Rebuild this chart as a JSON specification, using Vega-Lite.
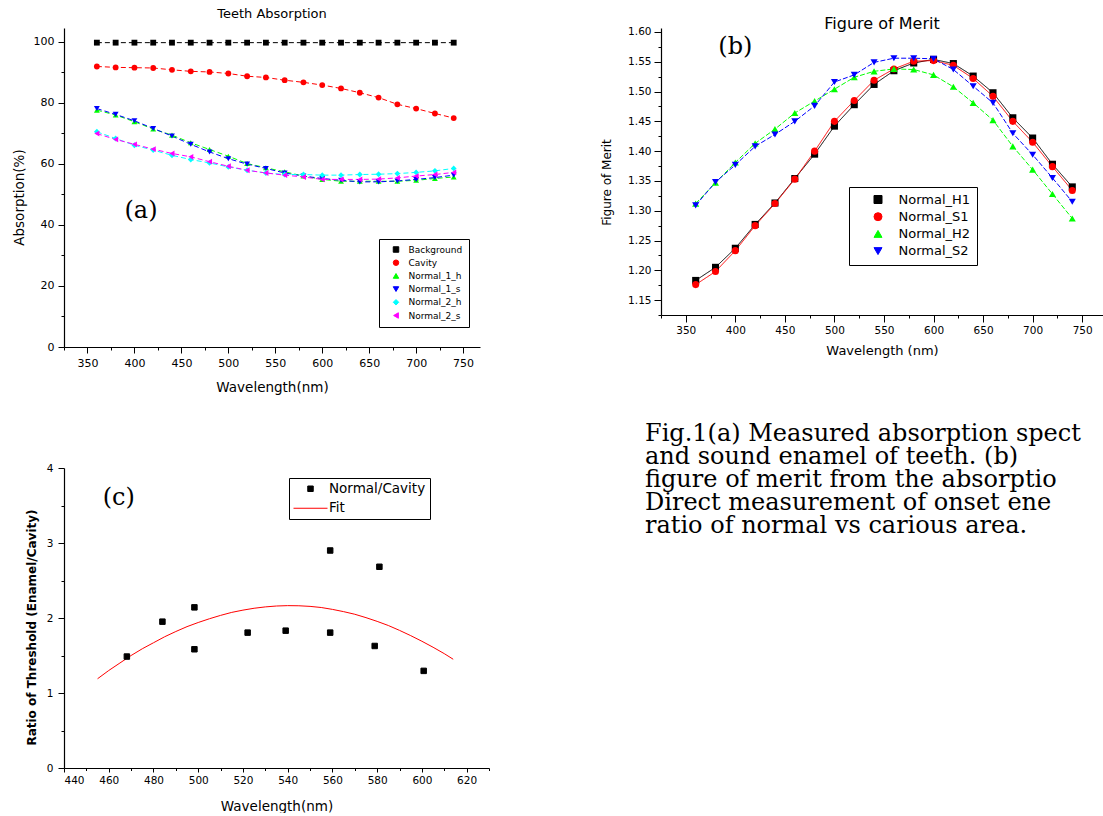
{
 "$schema": "https://vega.github.io/schema/vega-lite/v6.json",
 "background": "white",
 "padding": {"left": 12, "top": 8, "right": 0, "bottom": 0},
 "columns": 2,
 "spacing": {"row": 121, "column": 172},
 "align": "each",
 "bounds": "flush",
 "resolve": {"scale": {"color": "independent", "stroke": "independent", "shape": "independent", "strokeDash": "independent", "size": "independent"}, "legend": {"color": "independent", "stroke": "independent", "shape": "independent", "strokeDash": "independent", "size": "independent"}},
 "config": {
  "view": {"stroke": null},
  "font": "DejaVu Sans",
  "axis": {"grid": false, "domainColor": "#000000", "tickColor": "#000000", "labelColor": "#000000", "titleColor": "#000000", "labelFont": "DejaVu Sans", "titleFont": "DejaVu Sans", "titleFontWeight": "normal", "domainWidth": 1.2, "tickWidth": 1},
  "title": {"font": "DejaVu Sans", "fontWeight": "normal", "color": "#000000"},
  "legend": {"labelColor": "#000000", "labelFont": "DejaVu Sans"}
 },
 "datasets": {
  "absorption": [
   {"wavelength":360,"series":"Background","absorption":99.7},{"wavelength":380,"series":"Background","absorption":99.7},{"wavelength":400,"series":"Background","absorption":99.7},{"wavelength":420,"series":"Background","absorption":99.7},{"wavelength":440,"series":"Background","absorption":99.7},{"wavelength":460,"series":"Background","absorption":99.7},{"wavelength":480,"series":"Background","absorption":99.7},{"wavelength":500,"series":"Background","absorption":99.7},{"wavelength":520,"series":"Background","absorption":99.7},{"wavelength":540,"series":"Background","absorption":99.7},{"wavelength":560,"series":"Background","absorption":99.7},{"wavelength":580,"series":"Background","absorption":99.7},{"wavelength":600,"series":"Background","absorption":99.7},{"wavelength":620,"series":"Background","absorption":99.7},{"wavelength":640,"series":"Background","absorption":99.7},{"wavelength":660,"series":"Background","absorption":99.7},{"wavelength":680,"series":"Background","absorption":99.7},{"wavelength":700,"series":"Background","absorption":99.7},{"wavelength":720,"series":"Background","absorption":99.7},{"wavelength":740,"series":"Background","absorption":99.7},
   {"wavelength":360,"series":"Cavity","absorption":91.9},{"wavelength":380,"series":"Cavity","absorption":91.6},{"wavelength":400,"series":"Cavity","absorption":91.5},{"wavelength":420,"series":"Cavity","absorption":91.4},{"wavelength":440,"series":"Cavity","absorption":90.8},{"wavelength":460,"series":"Cavity","absorption":90.3},{"wavelength":480,"series":"Cavity","absorption":90.1},{"wavelength":500,"series":"Cavity","absorption":89.6},{"wavelength":520,"series":"Cavity","absorption":88.7},{"wavelength":540,"series":"Cavity","absorption":88.3},{"wavelength":560,"series":"Cavity","absorption":87.4},{"wavelength":580,"series":"Cavity","absorption":86.7},{"wavelength":600,"series":"Cavity","absorption":85.8},{"wavelength":620,"series":"Cavity","absorption":84.7},{"wavelength":640,"series":"Cavity","absorption":83.3},{"wavelength":660,"series":"Cavity","absorption":81.7},{"wavelength":680,"series":"Cavity","absorption":79.5},{"wavelength":700,"series":"Cavity","absorption":78.1},{"wavelength":720,"series":"Cavity","absorption":76.5},{"wavelength":740,"series":"Cavity","absorption":75.0},
   {"wavelength":360,"series":"Normal_1_h","absorption":77.6},{"wavelength":380,"series":"Normal_1_h","absorption":76.0},{"wavelength":400,"series":"Normal_1_h","absorption":73.8},{"wavelength":420,"series":"Normal_1_h","absorption":71.4},{"wavelength":440,"series":"Normal_1_h","absorption":69.4},{"wavelength":460,"series":"Normal_1_h","absorption":66.9},{"wavelength":480,"series":"Normal_1_h","absorption":64.7},{"wavelength":500,"series":"Normal_1_h","absorption":62.5},{"wavelength":520,"series":"Normal_1_h","absorption":60.1},{"wavelength":540,"series":"Normal_1_h","absorption":58.7},{"wavelength":560,"series":"Normal_1_h","absorption":57.4},{"wavelength":580,"series":"Normal_1_h","absorption":56.0},{"wavelength":600,"series":"Normal_1_h","absorption":54.9},{"wavelength":620,"series":"Normal_1_h","absorption":54.3},{"wavelength":640,"series":"Normal_1_h","absorption":54.3},{"wavelength":660,"series":"Normal_1_h","absorption":54.3},{"wavelength":680,"series":"Normal_1_h","absorption":54.3},{"wavelength":700,"series":"Normal_1_h","absorption":54.6},{"wavelength":720,"series":"Normal_1_h","absorption":55.2},{"wavelength":740,"series":"Normal_1_h","absorption":55.7},
   {"wavelength":360,"series":"Normal_1_s","absorption":78.1},{"wavelength":380,"series":"Normal_1_s","absorption":76.2},{"wavelength":400,"series":"Normal_1_s","absorption":74.1},{"wavelength":420,"series":"Normal_1_s","absorption":71.6},{"wavelength":440,"series":"Normal_1_s","absorption":69.1},{"wavelength":460,"series":"Normal_1_s","absorption":66.4},{"wavelength":480,"series":"Normal_1_s","absorption":63.9},{"wavelength":500,"series":"Normal_1_s","absorption":61.7},{"wavelength":520,"series":"Normal_1_s","absorption":59.9},{"wavelength":540,"series":"Normal_1_s","absorption":58.5},{"wavelength":560,"series":"Normal_1_s","absorption":57.0},{"wavelength":580,"series":"Normal_1_s","absorption":56.0},{"wavelength":600,"series":"Normal_1_s","absorption":55.2},{"wavelength":620,"series":"Normal_1_s","absorption":54.6},{"wavelength":640,"series":"Normal_1_s","absorption":54.1},{"wavelength":660,"series":"Normal_1_s","absorption":54.1},{"wavelength":680,"series":"Normal_1_s","absorption":54.4},{"wavelength":700,"series":"Normal_1_s","absorption":54.9},{"wavelength":720,"series":"Normal_1_s","absorption":55.5},{"wavelength":740,"series":"Normal_1_s","absorption":56.3},
   {"wavelength":360,"series":"Normal_2_h","absorption":70.5},{"wavelength":380,"series":"Normal_2_h","absorption":68.3},{"wavelength":400,"series":"Normal_2_h","absorption":66.1},{"wavelength":420,"series":"Normal_2_h","absorption":64.5},{"wavelength":440,"series":"Normal_2_h","absorption":62.8},{"wavelength":460,"series":"Normal_2_h","absorption":61.4},{"wavelength":480,"series":"Normal_2_h","absorption":60.3},{"wavelength":500,"series":"Normal_2_h","absorption":59.0},{"wavelength":520,"series":"Normal_2_h","absorption":57.9},{"wavelength":540,"series":"Normal_2_h","absorption":57.0},{"wavelength":560,"series":"Normal_2_h","absorption":56.5},{"wavelength":580,"series":"Normal_2_h","absorption":56.5},{"wavelength":600,"series":"Normal_2_h","absorption":56.3},{"wavelength":620,"series":"Normal_2_h","absorption":56.3},{"wavelength":640,"series":"Normal_2_h","absorption":56.5},{"wavelength":660,"series":"Normal_2_h","absorption":56.6},{"wavelength":680,"series":"Normal_2_h","absorption":56.8},{"wavelength":700,"series":"Normal_2_h","absorption":57.2},{"wavelength":720,"series":"Normal_2_h","absorption":57.7},{"wavelength":740,"series":"Normal_2_h","absorption":58.5},
   {"wavelength":360,"series":"Normal_2_s","absorption":69.9},{"wavelength":380,"series":"Normal_2_s","absorption":68.0},{"wavelength":400,"series":"Normal_2_s","absorption":66.4},{"wavelength":420,"series":"Normal_2_s","absorption":64.8},{"wavelength":440,"series":"Normal_2_s","absorption":63.4},{"wavelength":460,"series":"Normal_2_s","absorption":62.3},{"wavelength":480,"series":"Normal_2_s","absorption":60.7},{"wavelength":500,"series":"Normal_2_s","absorption":59.2},{"wavelength":520,"series":"Normal_2_s","absorption":57.9},{"wavelength":540,"series":"Normal_2_s","absorption":57.0},{"wavelength":560,"series":"Normal_2_s","absorption":56.3},{"wavelength":580,"series":"Normal_2_s","absorption":55.7},{"wavelength":600,"series":"Normal_2_s","absorption":54.9},{"wavelength":620,"series":"Normal_2_s","absorption":54.9},{"wavelength":640,"series":"Normal_2_s","absorption":54.9},{"wavelength":660,"series":"Normal_2_s","absorption":55.0},{"wavelength":680,"series":"Normal_2_s","absorption":55.4},{"wavelength":700,"series":"Normal_2_s","absorption":56.0},{"wavelength":720,"series":"Normal_2_s","absorption":56.5},{"wavelength":740,"series":"Normal_2_s","absorption":57.2}
  ],
  "fom": [
   {"wavelength":360,"series":"Normal_H1","fom":1.183},{"wavelength":380,"series":"Normal_H1","fom":1.205},{"wavelength":400,"series":"Normal_H1","fom":1.237},{"wavelength":420,"series":"Normal_H1","fom":1.277},{"wavelength":440,"series":"Normal_H1","fom":1.313},{"wavelength":460,"series":"Normal_H1","fom":1.354},{"wavelength":480,"series":"Normal_H1","fom":1.395},{"wavelength":500,"series":"Normal_H1","fom":1.442},{"wavelength":520,"series":"Normal_H1","fom":1.478},{"wavelength":540,"series":"Normal_H1","fom":1.512},{"wavelength":560,"series":"Normal_H1","fom":1.535},{"wavelength":580,"series":"Normal_H1","fom":1.548},{"wavelength":600,"series":"Normal_H1","fom":1.554},{"wavelength":620,"series":"Normal_H1","fom":1.547},{"wavelength":640,"series":"Normal_H1","fom":1.526},{"wavelength":660,"series":"Normal_H1","fom":1.498},{"wavelength":680,"series":"Normal_H1","fom":1.456},{"wavelength":700,"series":"Normal_H1","fom":1.422},{"wavelength":720,"series":"Normal_H1","fom":1.378},{"wavelength":740,"series":"Normal_H1","fom":1.340},
   {"wavelength":360,"series":"Normal_S1","fom":1.176},{"wavelength":380,"series":"Normal_S1","fom":1.198},{"wavelength":400,"series":"Normal_S1","fom":1.233},{"wavelength":420,"series":"Normal_S1","fom":1.275},{"wavelength":440,"series":"Normal_S1","fom":1.312},{"wavelength":460,"series":"Normal_S1","fom":1.353},{"wavelength":480,"series":"Normal_S1","fom":1.400},{"wavelength":500,"series":"Normal_S1","fom":1.450},{"wavelength":520,"series":"Normal_S1","fom":1.485},{"wavelength":540,"series":"Normal_S1","fom":1.519},{"wavelength":560,"series":"Normal_S1","fom":1.538},{"wavelength":580,"series":"Normal_S1","fom":1.551},{"wavelength":600,"series":"Normal_S1","fom":1.552},{"wavelength":620,"series":"Normal_S1","fom":1.544},{"wavelength":640,"series":"Normal_S1","fom":1.522},{"wavelength":660,"series":"Normal_S1","fom":1.492},{"wavelength":680,"series":"Normal_S1","fom":1.450},{"wavelength":700,"series":"Normal_S1","fom":1.415},{"wavelength":720,"series":"Normal_S1","fom":1.374},{"wavelength":740,"series":"Normal_S1","fom":1.334},
   {"wavelength":360,"series":"Normal_H2","fom":1.312},{"wavelength":380,"series":"Normal_H2","fom":1.347},{"wavelength":400,"series":"Normal_H2","fom":1.381},{"wavelength":420,"series":"Normal_H2","fom":1.413},{"wavelength":440,"series":"Normal_H2","fom":1.437},{"wavelength":460,"series":"Normal_H2","fom":1.464},{"wavelength":480,"series":"Normal_H2","fom":1.484},{"wavelength":500,"series":"Normal_H2","fom":1.504},{"wavelength":520,"series":"Normal_H2","fom":1.524},{"wavelength":540,"series":"Normal_H2","fom":1.534},{"wavelength":560,"series":"Normal_H2","fom":1.538},{"wavelength":580,"series":"Normal_H2","fom":1.537},{"wavelength":600,"series":"Normal_H2","fom":1.528},{"wavelength":620,"series":"Normal_H2","fom":1.508},{"wavelength":640,"series":"Normal_H2","fom":1.481},{"wavelength":660,"series":"Normal_H2","fom":1.452},{"wavelength":680,"series":"Normal_H2","fom":1.408},{"wavelength":700,"series":"Normal_H2","fom":1.369},{"wavelength":720,"series":"Normal_H2","fom":1.328},{"wavelength":740,"series":"Normal_H2","fom":1.287},
   {"wavelength":360,"series":"Normal_S2","fom":1.309},{"wavelength":380,"series":"Normal_S2","fom":1.348},{"wavelength":400,"series":"Normal_S2","fom":1.377},{"wavelength":420,"series":"Normal_S2","fom":1.408},{"wavelength":440,"series":"Normal_S2","fom":1.428},{"wavelength":460,"series":"Normal_S2","fom":1.450},{"wavelength":480,"series":"Normal_S2","fom":1.476},{"wavelength":500,"series":"Normal_S2","fom":1.516},{"wavelength":520,"series":"Normal_S2","fom":1.528},{"wavelength":540,"series":"Normal_S2","fom":1.549},{"wavelength":560,"series":"Normal_S2","fom":1.556},{"wavelength":580,"series":"Normal_S2","fom":1.556},{"wavelength":600,"series":"Normal_S2","fom":1.555},{"wavelength":620,"series":"Normal_S2","fom":1.537},{"wavelength":640,"series":"Normal_S2","fom":1.509},{"wavelength":660,"series":"Normal_S2","fom":1.481},{"wavelength":680,"series":"Normal_S2","fom":1.430},{"wavelength":700,"series":"Normal_S2","fom":1.394},{"wavelength":720,"series":"Normal_S2","fom":1.355},{"wavelength":740,"series":"Normal_S2","fom":1.315}
  ],
  "ratio": [
   {"wavelength":468.1,"series":"Normal/Cavity","ratio":1.486},{"wavelength":484.0,"series":"Normal/Cavity","ratio":1.951},{"wavelength":498.3,"series":"Normal/Cavity","ratio":2.142},{"wavelength":498.3,"series":"Normal/Cavity","ratio":1.583},{"wavelength":522.1,"series":"Normal/Cavity","ratio":1.805},{"wavelength":539.1,"series":"Normal/Cavity","ratio":1.831},{"wavelength":559.0,"series":"Normal/Cavity","ratio":2.900},{"wavelength":559.0,"series":"Normal/Cavity","ratio":1.805},{"wavelength":581.0,"series":"Normal/Cavity","ratio":2.683},{"wavelength":578.9,"series":"Normal/Cavity","ratio":1.627},{"wavelength":600.8,"series":"Normal/Cavity","ratio":1.295},
   {"wavelength":455,"series":"Fit","ratio":1.19},{"wavelength":460,"series":"Fit","ratio":1.30},{"wavelength":465,"series":"Fit","ratio":1.40},{"wavelength":470,"series":"Fit","ratio":1.50},{"wavelength":475,"series":"Fit","ratio":1.59},{"wavelength":480,"series":"Fit","ratio":1.67},{"wavelength":485,"series":"Fit","ratio":1.75},{"wavelength":490,"series":"Fit","ratio":1.82},{"wavelength":495,"series":"Fit","ratio":1.885},{"wavelength":500,"series":"Fit","ratio":1.94},{"wavelength":505,"series":"Fit","ratio":1.99},{"wavelength":510,"series":"Fit","ratio":2.035},{"wavelength":515,"series":"Fit","ratio":2.075},{"wavelength":520,"series":"Fit","ratio":2.105},{"wavelength":525,"series":"Fit","ratio":2.13},{"wavelength":530,"series":"Fit","ratio":2.148},{"wavelength":535,"series":"Fit","ratio":2.16},{"wavelength":540,"series":"Fit","ratio":2.165},{"wavelength":545,"series":"Fit","ratio":2.163},{"wavelength":550,"series":"Fit","ratio":2.155},{"wavelength":555,"series":"Fit","ratio":2.14},{"wavelength":560,"series":"Fit","ratio":2.115},{"wavelength":565,"series":"Fit","ratio":2.085},{"wavelength":570,"series":"Fit","ratio":2.05},{"wavelength":575,"series":"Fit","ratio":2.005},{"wavelength":580,"series":"Fit","ratio":1.955},{"wavelength":585,"series":"Fit","ratio":1.90},{"wavelength":590,"series":"Fit","ratio":1.835},{"wavelength":595,"series":"Fit","ratio":1.765},{"wavelength":600,"series":"Fit","ratio":1.69},{"wavelength":605,"series":"Fit","ratio":1.61},{"wavelength":610,"series":"Fit","ratio":1.525},{"wavelength":614,"series":"Fit","ratio":1.45}
  ],
  "caption": [
   {"line":1,"text":"Fig.1(a) Measured absorption spect"},
   {"line":2,"text":"and sound enamel of teeth. (b)"},
   {"line":3,"text":"figure of merit from the absorptio"},
   {"line":4,"text":"Direct measurement of onset ene"},
   {"line":5,"text":"ratio of normal vs carious area."}
  ]
 },
 "concat": [
  {
   "width": 416, "height": 319,
   "title": {"text": "Teeth Absorption", "fontSize": 13, "offset": 7},
   "layer": [
    {
     "data": {"name": "absorption"},
     "mark": {"type": "line", "strokeWidth": 1, "strokeDash": [5, 3]},
     "encoding": {
      "x": {"field": "wavelength", "type": "quantitative", "scale": {"domain": [325, 768], "nice": false, "zero": false},
            "axis": {"values": [350,400,450,500,550,600,650,700,750], "format": "d", "title": "Wavelength(nm)", "labelFontSize": 11, "tickSize": 6, "labelPadding": 4, "titleFontSize": 13.5, "titlePadding": 12}},
      "y": {"field": "absorption", "type": "quantitative", "scale": {"domain": [0, 104.5], "nice": false, "zero": false},
            "axis": {"values": [0,20,40,60,80,100], "format": "d", "title": "Absorption(%)", "labelFontSize": 11, "tickSize": 6, "labelPadding": 4, "titleFontSize": 13.5, "titlePadding": 7, "titleY": 169}},
      "stroke": {"field": "series", "type": "nominal", "scale": {"domain": ["Background","Cavity","Normal_1_h","Normal_1_s","Normal_2_h","Normal_2_s"], "range": ["#000000","#ff0000","#00ff00","#0000ff","#00ffff","#ff00ff"]},
        "legend": {"orient": "none", "legendX": 315, "legendY": 211, "title": null, "labelFontSize": 9, "symbolSize": 30, "symbolOffset": 6.5, "labelOffset": 8, "clipHeight": 9, "rowPadding": 3.2, "padding": 6, "fillColor": "white", "strokeColor": "black", "symbolStrokeWidth": 1, "symbolOpacity": 1}}
     }
    },
    {
     "data": {"name": "absorption"},
     "mark": {"type": "point", "filled": true, "size": 34, "opacity": 1},
     "encoding": {
      "x": {"field": "wavelength", "type": "quantitative", "scale": {"domain": [325, 768], "nice": false, "zero": false},
            "axis": {"values": [325,375,425,475,525,575,625,675,725], "labels": false, "domain": false, "title": null, "tickSize": 3, "orient": "bottom"}},
      "y": {"field": "absorption", "type": "quantitative", "scale": {"domain": [0, 104.5], "nice": false, "zero": false},
            "axis": {"values": [10,30,50,70,90], "labels": false, "domain": false, "title": null, "tickSize": 3, "orient": "left"}},
      "color": {"field": "series", "type": "nominal", "scale": {"domain": ["Background","Cavity","Normal_1_h","Normal_1_s","Normal_2_h","Normal_2_s"], "range": ["#000000","#ff0000","#00ff00","#0000ff","#00ffff","#ff00ff"]},
        "legend": {"orient": "none", "legendX": 315, "legendY": 211, "title": null, "labelFontSize": 9, "symbolSize": 30, "symbolOffset": 6.5, "labelOffset": 8, "clipHeight": 9, "rowPadding": 3.2, "padding": 6, "fillColor": "white", "strokeColor": "black", "symbolStrokeWidth": 1, "symbolOpacity": 1}},
      "shape": {"field": "series", "type": "nominal", "scale": {"domain": ["Background","Cavity","Normal_1_h","Normal_1_s","Normal_2_h","Normal_2_s"], "range": ["square","circle","triangle-up","triangle-down","diamond","triangle-left"]},
        "legend": {"orient": "none", "legendX": 315, "legendY": 211, "title": null, "labelFontSize": 9, "symbolSize": 30, "symbolOffset": 6.5, "labelOffset": 8, "clipHeight": 9, "rowPadding": 3.2, "padding": 6, "fillColor": "white", "strokeColor": "black", "symbolStrokeWidth": 1, "symbolOpacity": 1}}
     }
    },
    {
     "data": {"values": [{"wavelength": 407, "absorption": 44.6, "label": "(a)"}]},
     "mark": {"type": "text", "font": "DejaVu Serif", "fontSize": 24, "align": "center", "baseline": "middle", "color": "#000000"},
     "encoding": {
      "x": {"field": "wavelength", "type": "quantitative", "scale": {"domain": [325, 768], "nice": false, "zero": false}, "axis": null},
      "y": {"field": "absorption", "type": "quantitative", "scale": {"domain": [0, 104.5], "nice": false, "zero": false}, "axis": null},
      "text": {"field": "label", "type": "nominal"}
     }
    }
   ],
   "resolve": {"axis": {"x": "independent", "y": "independent"}}
  },
  {
   "width": 442, "height": 287,
   "title": {"text": "Figure of Merit", "fontSize": 16, "offset": -5},
   "layer": [
    {
     "data": {"name": "fom"},
     "mark": {"type": "line", "strokeWidth": 1},
     "encoding": {
      "x": {"field": "wavelength", "type": "quantitative", "scale": {"domain": [325, 771], "nice": false, "zero": false},
            "axis": {"values": [350,400,450,500,550,600,650,700,750], "format": "d", "title": "Wavelength (nm)", "labelFontSize": 10.5, "tickSize": 7, "labelPadding": 3, "titleFontSize": 13, "titlePadding": 9}},
      "y": {"field": "fom", "type": "quantitative", "scale": {"domain": [1.125, 1.6067], "nice": false, "zero": false},
            "axis": {"values": [1.15,1.2,1.25,1.3,1.35,1.4,1.45,1.5,1.55,1.6], "format": ".2f", "title": "Figure of Merit", "labelFontSize": 10.5, "tickSize": 7, "labelPadding": 3, "titleFontSize": 12, "titlePadding": 14, "titleY": 154}},
      "stroke": {"field": "series", "type": "nominal", "scale": {"domain": ["Normal_H1","Normal_S1","Normal_H2","Normal_S2"], "range": ["#000000","#ff0000","#00ff00","#0000ff"]},
        "legend": {"orient": "none", "legendX": 188, "legendY": 159, "title": null, "labelFontSize": 13, "symbolSize": 64, "symbolOffset": 16.5, "labelOffset": 14, "clipHeight": 13, "rowPadding": 3.2, "padding": 6, "fillColor": "white", "strokeColor": "black", "symbolStrokeWidth": 1, "symbolOpacity": 1}},
      "strokeDash": {"field": "series", "type": "nominal", "scale": {"domain": ["Normal_H2","Normal_S2","Normal_H1","Normal_S1"], "range": [[5,2],[5,2],[1,0],[1,0]]}, "legend": null}
     }
    },
    {
     "data": {"name": "fom"},
     "mark": {"type": "point", "filled": true, "size": 50, "opacity": 1},
     "encoding": {
      "x": {"field": "wavelength", "type": "quantitative", "scale": {"domain": [325, 771], "nice": false, "zero": false},
            "axis": {"values": [325,375,425,475,525,575,625,675,725], "labels": false, "domain": false, "title": null, "tickSize": 3, "orient": "bottom"}},
      "y": {"field": "fom", "type": "quantitative", "scale": {"domain": [1.125, 1.6067], "nice": false, "zero": false},
            "axis": {"values": [1.125,1.175,1.225,1.275,1.325,1.375,1.425,1.475,1.525,1.575], "labels": false, "domain": false, "title": null, "tickSize": 3, "orient": "left"}},
      "color": {"field": "series", "type": "nominal", "scale": {"domain": ["Normal_H1","Normal_S1","Normal_H2","Normal_S2"], "range": ["#000000","#ff0000","#00ff00","#0000ff"]},
        "legend": {"orient": "none", "legendX": 188, "legendY": 159, "title": null, "labelFontSize": 13, "symbolSize": 64, "symbolOffset": 16.5, "labelOffset": 14, "clipHeight": 13, "rowPadding": 3.2, "padding": 6, "fillColor": "white", "strokeColor": "black", "symbolStrokeWidth": 1, "symbolOpacity": 1}},
      "shape": {"field": "series", "type": "nominal", "scale": {"domain": ["Normal_H1","Normal_S1","Normal_H2","Normal_S2"], "range": ["square","circle","triangle-up","triangle-down"]},
        "legend": {"orient": "none", "legendX": 188, "legendY": 159, "title": null, "labelFontSize": 13, "symbolSize": 64, "symbolOffset": 16.5, "labelOffset": 14, "clipHeight": 13, "rowPadding": 3.2, "padding": 6, "fillColor": "white", "strokeColor": "black", "symbolStrokeWidth": 1, "symbolOpacity": 1}}
     }
    },
    {
     "data": {"values": [{"wavelength": 400, "fom": 1.575, "label": "(b)"}]},
     "mark": {"type": "text", "font": "DejaVu Serif", "fontSize": 24, "align": "center", "baseline": "middle", "color": "#000000"},
     "encoding": {
      "x": {"field": "wavelength", "type": "quantitative", "scale": {"domain": [325, 771], "nice": false, "zero": false}, "axis": null},
      "y": {"field": "fom", "type": "quantitative", "scale": {"domain": [1.125, 1.6067], "nice": false, "zero": false}, "axis": null},
      "text": {"field": "label", "type": "nominal"}
     }
    }
   ],
   "resolve": {"axis": {"x": "independent", "y": "independent"}}
  },
  {
   "width": 425, "height": 300,
   "layer": [
    {
     "data": {"name": "ratio"},
     "transform": [{"filter": "datum.series === 'Fit'"}],
     "mark": {"type": "line", "strokeWidth": 1, "color": "#ff0000"},
     "encoding": {
      "x": {"field": "wavelength", "type": "quantitative", "scale": {"domain": [440, 630], "nice": false, "zero": false},
            "axis": {"values": [440,460,480,500,520,540,560,580,600,620], "format": "d", "title": "Wavelength(nm)", "labelFontSize": 10.5, "tickSize": 4, "labelPadding": 3, "titleFontSize": 13.5, "titlePadding": 14}},
      "y": {"field": "ratio", "type": "quantitative", "scale": {"domain": [0, 4], "nice": false, "zero": false},
            "axis": {"values": [0,1,2,3,4], "format": "d", "title": "Ratio of Threshold (Enamel/Cavity)", "labelFontSize": 10.5, "tickSize": 6, "labelPadding": 5, "titleFontSize": 12, "titleFontWeight": "bold", "titlePadding": 8, "titleY": 159}}
     }
    },
    {
     "data": {"name": "ratio"},
     "transform": [{"filter": "datum.series === 'Normal/Cavity'"}],
     "mark": {"type": "point", "filled": true, "strokeWidth": 1, "opacity": 1},
     "encoding": {
      "x": {"field": "wavelength", "type": "quantitative", "scale": {"domain": [440, 630], "nice": false, "zero": false},
            "axis": {"values": [450,470,490,510,530,550,570,590,610,630], "labels": false, "domain": false, "title": null, "tickSize": 2.5, "orient": "bottom"}},
      "y": {"field": "ratio", "type": "quantitative", "scale": {"domain": [0, 4], "nice": false, "zero": false},
            "axis": {"values": [0.5,1.5,2.5,3.5], "labels": false, "domain": false, "title": null, "tickSize": 3, "orient": "left"}},
      "color": {"field": "series", "type": "nominal", "scale": {"domain": ["Normal/Cavity","Fit"], "range": ["#000000","#ff0000"]},
        "legend": {"orient": "none", "legendX": 225, "legendY": 10, "title": null, "labelFontSize": 13.5, "labelOffset": 1, "clipHeight": 13.5, "rowPadding": 4.5, "padding": 4, "fillColor": "white", "strokeColor": "black", "symbolStrokeWidth": 1, "symbolOpacity": 1}},
      "stroke": {"field": "series", "type": "nominal", "scale": {"domain": ["Normal/Cavity","Fit"], "range": ["#000000","#ff0000"]},
        "legend": {"orient": "none", "legendX": 225, "legendY": 10, "title": null, "labelFontSize": 13.5, "labelOffset": 1, "clipHeight": 13.5, "rowPadding": 4.5, "padding": 4, "fillColor": "white", "strokeColor": "black", "symbolStrokeWidth": 1, "symbolOpacity": 1}},
      "shape": {"field": "series", "type": "nominal", "scale": {"domain": ["Normal/Cavity","Fit"], "range": ["square","stroke"]},
        "legend": {"orient": "none", "legendX": 225, "legendY": 10, "title": null, "labelFontSize": 13.5, "labelOffset": 1, "clipHeight": 13.5, "rowPadding": 4.5, "padding": 4, "fillColor": "white", "strokeColor": "black", "symbolStrokeWidth": 1, "symbolOpacity": 1}},
      "size": {"field": "series", "type": "nominal", "scale": {"domain": ["Normal/Cavity","Fit"], "range": [30, 1156]},
        "legend": {"orient": "none", "legendX": 225, "legendY": 10, "title": null, "labelFontSize": 13.5, "labelOffset": 1, "clipHeight": 13.5, "rowPadding": 4.5, "padding": 4, "fillColor": "white", "strokeColor": "black", "symbolStrokeWidth": 1, "symbolOpacity": 1}}
     }
    },
    {
     "data": {"values": [{"wavelength": 464.5, "ratio": 3.6, "label": "(c)"}]},
     "mark": {"type": "text", "font": "DejaVu Serif", "fontSize": 24, "align": "center", "baseline": "middle", "color": "#000000"},
     "encoding": {
      "x": {"field": "wavelength", "type": "quantitative", "scale": {"domain": [440, 630], "nice": false, "zero": false}, "axis": null},
      "y": {"field": "ratio", "type": "quantitative", "scale": {"domain": [0, 4], "nice": false, "zero": false}, "axis": null},
      "text": {"field": "label", "type": "nominal"}
     }
    }
   ],
   "resolve": {"axis": {"x": "independent", "y": "independent"}}
  },
  {
   "width": 442, "height": 92,
   "data": {"name": "caption"},
   "mark": {"type": "text", "font": "DejaVu Serif", "fontSize": 24, "align": "left", "baseline": "alphabetic", "dx": -16, "dy": -27, "limit": 458, "ellipsis": "", "color": "#000000"},
   "encoding": {
    "x": {"value": 0},
    "y": {"field": "line", "type": "ordinal", "scale": {"type": "point", "padding": 0}, "axis": null},
    "text": {"field": "text", "type": "nominal"}
   }
  }
 ]
}
